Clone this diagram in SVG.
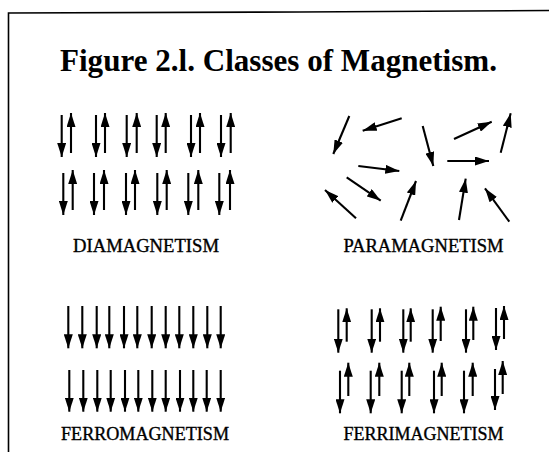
<svg xmlns="http://www.w3.org/2000/svg" width="549" height="452" viewBox="0 0 549 452">
<defs>
<marker id="ah" markerUnits="userSpaceOnUse" markerWidth="14" markerHeight="9" refX="14" refY="4.5" orient="auto">
<path d="M0,0 L14,4.5 L0,9 z" fill="#000"/>
</marker>
<style>
.a{stroke:#000;stroke-width:2.1;fill:none;marker-end:url(#ah)}
.lbl{font-family:"Liberation Serif","Times New Roman",serif;font-size:18px;fill:#000;stroke:#000;stroke-width:0.35}
.title{font-family:"Liberation Serif","Times New Roman",serif;font-size:31px;font-weight:bold;fill:#000}
</style>
</defs>
<rect width="549" height="452" fill="#fff"/>
<g id="frame"><polyline points="8.5,452 8.5,13 300,12 549,10.5" fill="none" stroke="#000" stroke-width="1.6"/></g>
<g id="title"><text class="title" x="60" y="71" textLength="437" lengthAdjust="spacingAndGlyphs">Figure 2.l. Classes of Magnetism.</text></g>

<g id="diamagnetism">
<g class="arrows">
<line class="a" x1="61.7" y1="115" x2="61.7" y2="157"/><line class="a" x1="71" y1="153" x2="71" y2="113"/>
<line class="a" x1="96" y1="115" x2="96" y2="157"/><line class="a" x1="105" y1="153" x2="105" y2="113"/>
<line class="a" x1="126.7" y1="115" x2="126.7" y2="157"/><line class="a" x1="136.7" y1="153" x2="136.7" y2="113"/>
<line class="a" x1="156.7" y1="115" x2="156.7" y2="157"/><line class="a" x1="165.7" y1="153" x2="165.7" y2="113"/>
<line class="a" x1="191" y1="115" x2="191" y2="157"/><line class="a" x1="200" y1="153" x2="200" y2="113"/>
<line class="a" x1="221" y1="115" x2="221" y2="157"/><line class="a" x1="230.7" y1="153" x2="230.7" y2="113"/>
<line class="a" x1="63.3" y1="173" x2="63.3" y2="215"/><line class="a" x1="72.7" y1="210" x2="72.7" y2="170"/>
<line class="a" x1="94" y1="173" x2="94" y2="215"/><line class="a" x1="104" y1="210" x2="104" y2="170"/>
<line class="a" x1="126" y1="173" x2="126" y2="215"/><line class="a" x1="135" y1="210" x2="135" y2="170"/>
<line class="a" x1="157.3" y1="173" x2="157.3" y2="215"/><line class="a" x1="166.7" y1="210" x2="166.7" y2="170"/>
<line class="a" x1="188.3" y1="173" x2="188.3" y2="215"/><line class="a" x1="198.3" y1="210" x2="198.3" y2="170"/>
<line class="a" x1="219.3" y1="173" x2="219.3" y2="215"/><line class="a" x1="230" y1="210" x2="230" y2="170"/>
</g>
<text class="lbl" x="73" y="251.5" textLength="146" lengthAdjust="spacingAndGlyphs">DIAMAGNETISM</text>
</g>

<g id="paramagnetism">
<g class="arrows">
<line class="a" x1="349.3" y1="116" x2="333.3" y2="154"/>
<line class="a" x1="401.7" y1="118.3" x2="362.7" y2="130.7"/>
<line class="a" x1="422.7" y1="126" x2="433.3" y2="166"/>
<line class="a" x1="454" y1="139" x2="491.7" y2="121.7"/>
<line class="a" x1="500.7" y1="152.7" x2="510.7" y2="113.3"/>
<line class="a" x1="358.3" y1="166" x2="399.3" y2="171"/>
<line class="a" x1="447.3" y1="161" x2="489" y2="161"/>
<line class="a" x1="346.7" y1="177.3" x2="380.7" y2="200.7"/>
<line class="a" x1="356" y1="218.3" x2="325" y2="190"/>
<line class="a" x1="400.7" y1="220.7" x2="416" y2="181"/>
<line class="a" x1="459" y1="220" x2="465.7" y2="178.7"/>
<line class="a" x1="509.3" y1="221.7" x2="485" y2="188.3"/>
</g>
<text class="lbl" x="343.5" y="251.5" textLength="160" lengthAdjust="spacingAndGlyphs">PARAMAGNETISM</text>
</g>

<g id="ferromagnetism">
<g class="arrows">
<line class="a" x1="68.3" y1="306" x2="68.3" y2="348.3"/>
<line class="a" x1="82.3" y1="306" x2="82.3" y2="348.3"/>
<line class="a" x1="96.7" y1="306" x2="96.7" y2="348.3"/>
<line class="a" x1="109.3" y1="306" x2="109.3" y2="348.3"/>
<line class="a" x1="124" y1="306" x2="124" y2="348.3"/>
<line class="a" x1="137.3" y1="306" x2="137.3" y2="348.3"/>
<line class="a" x1="151.7" y1="306" x2="151.7" y2="348.3"/>
<line class="a" x1="165.7" y1="306" x2="165.7" y2="348.3"/>
<line class="a" x1="179.3" y1="306" x2="179.3" y2="348.3"/>
<line class="a" x1="193.3" y1="306" x2="193.3" y2="348.3"/>
<line class="a" x1="207.3" y1="306" x2="207.3" y2="348.3"/>
<line class="a" x1="220.7" y1="306" x2="220.7" y2="348.3"/>
<line class="a" x1="69.3" y1="370" x2="69.3" y2="411.7"/>
<line class="a" x1="83.3" y1="370" x2="83.3" y2="411.7"/>
<line class="a" x1="97.3" y1="370" x2="97.3" y2="411.7"/>
<line class="a" x1="110.7" y1="370" x2="110.7" y2="411.7"/>
<line class="a" x1="125" y1="370" x2="125" y2="411.7"/>
<line class="a" x1="138.3" y1="370" x2="138.3" y2="411.7"/>
<line class="a" x1="152.3" y1="370" x2="152.3" y2="411.7"/>
<line class="a" x1="165.7" y1="370" x2="165.7" y2="411.7"/>
<line class="a" x1="180" y1="370" x2="180" y2="411.7"/>
<line class="a" x1="193.3" y1="370" x2="193.3" y2="411.7"/>
<line class="a" x1="206.7" y1="370" x2="206.7" y2="411.7"/>
<line class="a" x1="220.7" y1="370" x2="220.7" y2="411.7"/>
</g>
<text class="lbl" x="61" y="440" textLength="168" lengthAdjust="spacingAndGlyphs">FERROMAGNETISM</text>
</g>

<g id="ferrimagnetism">
<g class="arrows">
<line class="a" x1="338.3" y1="309.3" x2="338.3" y2="352.7"/><line class="a" x1="346.7" y1="341.7" x2="346.7" y2="308.3"/>
<line class="a" x1="371.7" y1="309.3" x2="371.7" y2="352.7"/><line class="a" x1="380" y1="341.7" x2="380" y2="308.3"/>
<line class="a" x1="403.3" y1="309.3" x2="403.3" y2="352.7"/><line class="a" x1="410.7" y1="341.7" x2="410.7" y2="308.3"/>
<line class="a" x1="432.7" y1="309.3" x2="432.7" y2="352.7"/><line class="a" x1="440.7" y1="341" x2="440.7" y2="306.7"/>
<line class="a" x1="466" y1="309.3" x2="466" y2="352.7"/><line class="a" x1="473.3" y1="340" x2="473.3" y2="306.7"/>
<line class="a" x1="496" y1="308" x2="496" y2="350"/><line class="a" x1="504" y1="339" x2="504" y2="306"/>
<line class="a" x1="340" y1="370.7" x2="340" y2="413.3"/><line class="a" x1="348.3" y1="396" x2="348.3" y2="362.7"/>
<line class="a" x1="370.7" y1="370.7" x2="370.7" y2="413.3"/><line class="a" x1="379.3" y1="396" x2="379.3" y2="362.7"/>
<line class="a" x1="401.7" y1="370.7" x2="401.7" y2="413.3"/><line class="a" x1="409.3" y1="396" x2="409.3" y2="362.7"/>
<line class="a" x1="434" y1="370.7" x2="434" y2="413.3"/><line class="a" x1="441.7" y1="396" x2="441.7" y2="362.7"/>
<line class="a" x1="464" y1="370.7" x2="464" y2="413.3"/><line class="a" x1="472.7" y1="396" x2="472.7" y2="362.7"/>
<line class="a" x1="495" y1="369" x2="495" y2="410"/><line class="a" x1="502.7" y1="394" x2="502.7" y2="361"/>
</g>
<text class="lbl" x="343.5" y="440" textLength="160" lengthAdjust="spacingAndGlyphs">FERRIMAGNETISM</text>
</g>
</svg>
